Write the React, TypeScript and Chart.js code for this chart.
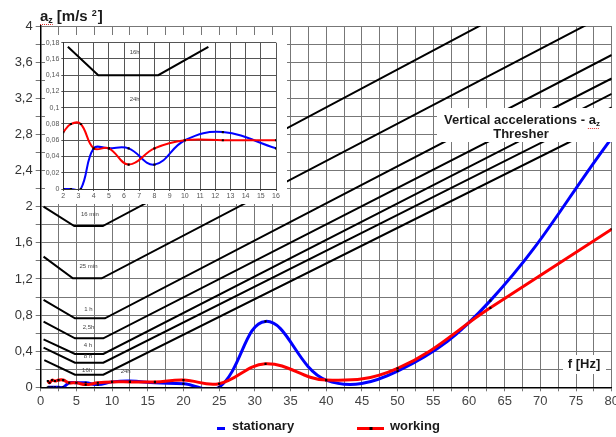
import React, { useEffect, useRef } from 'react';
import { Chart, registerables } from 'chart.js';

Chart.register(...registerables);
Chart.defaults.font.family = "'Liberation Sans', Arial, sans-serif";

// ---------- main chart data ----------
const FREQUENCIES = [1, 1.25, 1.6, 2, 2.5, 3.15, 4, 5, 6.3, 8, 10, 12.5, 16, 20, 25, 31.5, 40, 50, 63, 80];
const STATIONARY = [0, 0, 0, 0, 0, 0, 0.05, 0.05, 0.05, 0.03, 0.06, 0.07, 0.05, 0.04, 0, 0.73, 0.08, 0.18, 0.96, 2.76];
const WORKING = [0.07, 0.05, 0.08, 0.07, 0.08, 0.08, 0.05, 0.05, 0.03, 0.05, 0.06, 0.06, 0.06, 0.08, 0.04, 0.26, 0.08, 0.21, 0.88, 1.75];

const LIMIT_LABELS = ['16 min', '25 min', '1 h', '2,5h', '4 h', '8 h', '16h'];
const LIMIT_FREQS = [
  [0.4, 4.7, 8.7, 80],
  [0.4, 4.5, 8.55, 80],
  [0.4, 4.8, 9.0, 80],
  [0.4, 4.8, 8.77, 80],
  [0.4, 4.8, 8.77, 80],
  [0.4, 4.8, 8.77, 80],
  [0.5, 4.8, 8.77, 80],
];
const LIMIT_VALUES = [
  [2.0, 1.786, 1.786, 4.78],
  [1.447, 1.207, 1.207, 4.16],
  [0.967, 0.764, 0.764, 3.68],
  [0.727, 0.543, 0.543, 3.42],
  [0.53, 0.369, 0.369, 3.25],
  [0.439, 0.273, 0.273, 3.1],
  [0.3, 0.14, 0.14, 2.95],
];
const LIMIT_LABEL_F = [6.9, 6.7, 6.7, 6.7, 6.6, 6.6, 6.5, 11.9];
const LIMIT_LABEL_A = [1.91, 1.336, 0.86, 0.66, 0.47, 0.347, 0.19, 0.173];
const LIMIT_LABEL_TEXT = ['16 min', '25 min', '1 h', '2,5h', '4 h', '8 h', '16h', '24h'];

// ---------- inset data ----------
const INSET_FREQS = [2, 2.5, 3.15, 4, 5, 6.3, 8, 10, 12.5, 16];
const INSET_STATIONARY = [0, 0, 0, 0.05, 0.05, 0.05, 0.03, 0.06, 0.07, 0.05];
const INSET_WORKING = [0.07, 0.08, 0.08, 0.05, 0.05, 0.03, 0.05, 0.06, 0.06, 0.06];
const INSET_LIMIT_FREQS = [2.3, 4.3, 8.25, 11.55];
const INSET_LIMIT_VALUES = [0.175, 0.14, 0.14, 0.175];
const INSET_LABEL_F = [6.7, 6.7];
const INSET_LABEL_A = [0.168, 0.11];
const INSET_LABEL_TEXT = ['16h', '24h'];

const FONT = "'Liberation Sans', Arial, sans-serif";

const pts = (xs: number[], ys: number[]) => xs.map((x, i) => ({ x, y: ys[i] }));

export default function App() {
  const mainRef = useRef<HTMLCanvasElement>(null);
  const insetRef = useRef<HTMLCanvasElement>(null);

  useEffect(() => {
    document.body.style.margin = '0';

    const limitSets = LIMIT_LABELS.map((name, i) => ({
      label: name,
      data: pts(LIMIT_FREQS[i], LIMIT_VALUES[i]),
      borderColor: '#000',
      borderWidth: 2,
      pointRadius: 0,
      tension: 0,
    }));

    const overlay = {
      id: 'overlay',
      afterDraw(chart: any) {
        const ctx = chart.ctx;
        const xs = chart.scales.x;
        const ys = chart.scales.y;
        ctx.save();
        // limit labels
        ctx.font = `6px ${FONT}`;
        ctx.fillStyle = '#444';
        ctx.textAlign = 'center';
        ctx.textBaseline = 'middle';
        LIMIT_LABEL_TEXT.forEach((t, i) => {
          ctx.fillText(t, xs.getPixelForValue(LIMIT_LABEL_F[i]), ys.getPixelForValue(LIMIT_LABEL_A[i]));
        });

        // title box
        ctx.fillStyle = '#fff';
        ctx.fillRect(437, 108, 176, 34);
        ctx.fillStyle = '#1a1a1a';
        ctx.font = `bold 13px ${FONT}`;
        ctx.textBaseline = 'middle';
        ctx.textAlign = 'left';
        const l1 = 'Vertical accelerations - a';
        const w1 = ctx.measureText(l1).width;
        ctx.font = `bold 8px ${FONT}`;
        const wz = ctx.measureText('z').width;
        const sx = 522 - (w1 + wz) / 2;
        ctx.font = `bold 13px ${FONT}`;
        ctx.fillText(l1, sx, 120);
        ctx.font = `bold 8px ${FONT}`;
        ctx.fillText('z', sx + w1, 124);
        ctx.strokeStyle = '#e03030';
        ctx.lineWidth = 1;
        ctx.setLineDash([1, 1]);
        ctx.beginPath();
        ctx.moveTo(sx + w1 - 8, 128.5);
        ctx.lineTo(sx + w1 + wz, 128.5);
        ctx.stroke();
        ctx.setLineDash([]);
        ctx.font = `bold 13px ${FONT}`;
        ctx.textAlign = 'center';
        ctx.fillText('Thresher', 521, 134);

        // f [Hz] box
        ctx.fillStyle = '#fff';
        ctx.fillRect(563, 355, 43, 19);
        ctx.fillStyle = '#1a1a1a';
        ctx.fillText('f [Hz]', 584, 364);

        // y axis title
        ctx.textAlign = 'left';
        ctx.textBaseline = 'alphabetic';
        let x = 40;
        ctx.font = `bold 15px ${FONT}`;
        ctx.fillText('a', x, 21);
        x += ctx.measureText('a').width;
        ctx.font = `bold 9px ${FONT}`;
        ctx.fillText('z', x, 23);
        const zx = x + ctx.measureText('z').width;
        ctx.strokeStyle = '#e03030';
        ctx.setLineDash([1, 1]);
        ctx.beginPath();
        ctx.moveTo(40, 24.5);
        ctx.lineTo(zx, 24.5);
        ctx.stroke();
        ctx.setLineDash([]);
        x = zx + 4;
        ctx.font = `bold 15px ${FONT}`;
        ctx.fillText('[m/s ', x, 21);
        x += ctx.measureText('[m/s ').width;
        ctx.font = `bold 9px ${FONT}`;
        ctx.fillText('2', x, 16);
        x += ctx.measureText('2').width + 1;
        ctx.font = `bold 15px ${FONT}`;
        ctx.fillText(']', x, 21);

        // legend
        ctx.lineWidth = 3;
        ctx.strokeStyle = '#0000ff';
        ctx.beginPath();
        ctx.moveTo(217, 428.5);
        ctx.lineTo(225, 428.5);
        ctx.stroke();
        ctx.strokeStyle = '#ff0000';
        ctx.beginPath();
        ctx.moveTo(357, 428.5);
        ctx.lineTo(384, 428.5);
        ctx.stroke();
        ctx.fillStyle = '#000';
        ctx.fillRect(369.5, 427, 3, 3);
        ctx.fillStyle = '#1a1a1a';
        ctx.font = `bold 13px ${FONT}`;
        ctx.textBaseline = 'middle';
        ctx.fillText('stationary', 232, 426);
        ctx.fillText('working', 390, 426);
        ctx.restore();
      },
    };

    const main = new Chart(mainRef.current!, {
      type: 'line',
      data: {
        datasets: [
          {
            label: 'working',
            data: pts(FREQUENCIES, WORKING),
            borderColor: '#ff0000',
            borderWidth: 3,
            tension: 0.4,
            pointStyle: 'rect',
            pointRadius: 1.5,
            pointBackgroundColor: '#000',
            pointBorderWidth: 0,
          },
          {
            label: 'stationary',
            data: pts(FREQUENCIES, STATIONARY),
            borderColor: '#0000ff',
            borderWidth: 3,
            tension: 0.4,
            pointStyle: 'rect',
            pointRadius: 1.5,
            pointBackgroundColor: '#000',
            pointBorderWidth: 0,
          },
          ...limitSets,
        ] as any,
      },
      options: {
        animation: false,
        responsive: true,
        maintainAspectRatio: false,
        events: [],
        layout: { padding: { left: 0, right: 4.3, top: 26.1, bottom: 29.7 } },
        elements: { line: { capBezierPoints: false } },
        plugins: { legend: { display: false }, tooltip: { enabled: false } },
        scales: {
          x: {
            type: 'linear',
            min: 0,
            max: 80,
            ticks: {
              stepSize: 2.5,
              autoSkip: false,
              maxRotation: 0,
              color: '#444',
              font: { size: 13 },
              padding: 2,
              callback: (v: any) => (Number(v) % 5 === 0 ? String(v) : ''),
            },
            grid: { color: '#777', lineWidth: 1, tickLength: 4 },
            border: { color: '#000', width: 1.5 },
            afterFit: (s: any) => {
              s.height = 20;
              s.paddingLeft = 0;
              s.paddingRight = 0;
            },
          },
          y: {
            type: 'linear',
            min: 0,
            max: 4,
            ticks: {
              stepSize: 0.2,
              autoSkip: false,
              color: '#333',
              font: { size: 13 },
              padding: 3,
              callback: (v: any) => {
                const k = Math.round(Number(v) * 10);
                if (k % 4 !== 0) return '';
                return String(k / 10).replace('.', ',');
              },
            },
            grid: { color: '#777', lineWidth: 1, tickLength: 5 },
            border: { color: '#000', width: 1.5 },
            afterFit: (s: any) => {
              s.width = 40.7;
              s.paddingTop = 0;
              s.paddingBottom = 0;
            },
          },
        },
      } as any,
      plugins: [overlay],
    });

    const insetOverlay = {
      id: 'insetOverlay',
      afterDatasetsDraw(chart: any) {
        const ctx = chart.ctx;
        ctx.save();
        ctx.font = `6px ${FONT}`;
        ctx.fillStyle = '#444';
        ctx.textAlign = 'center';
        ctx.textBaseline = 'middle';
        INSET_LABEL_TEXT.forEach((t, i) => {
          ctx.fillText(t, chart.scales.x.getPixelForValue(INSET_LABEL_F[i]), chart.scales.y.getPixelForValue(INSET_LABEL_A[i]));
        });
        ctx.restore();
      },
    };

    const inset = new Chart(insetRef.current!, {
      type: 'line',
      data: {
        datasets: [
          {
            label: 'working',
            data: pts(INSET_FREQS, INSET_WORKING),
            borderColor: '#ff0000',
            borderWidth: 2,
            tension: 0.4,
            pointStyle: 'rect',
            pointRadius: 1.5,
            pointBackgroundColor: '#000',
            pointBorderWidth: 0,
          },
          {
            label: 'stationary',
            data: pts(INSET_FREQS, INSET_STATIONARY),
            borderColor: '#0000ff',
            borderWidth: 2,
            tension: 0.4,
            pointStyle: 'rect',
            pointRadius: 1.5,
            pointBackgroundColor: '#000',
            pointBorderWidth: 0,
          },
          {
            label: '16h',
            data: pts(INSET_LIMIT_FREQS, INSET_LIMIT_VALUES),
            borderColor: '#000',
            borderWidth: 2,
            pointRadius: 0,
            tension: 0,
          },
        ] as any,
      },
      options: {
        animation: false,
        responsive: true,
        maintainAspectRatio: false,
        events: [],
        layout: { padding: { left: 0, right: 11, top: 7.7, bottom: 0 } },
        elements: { line: { capBezierPoints: false } },
        plugins: { legend: { display: false }, tooltip: { enabled: false } },
        scales: {
          x: {
            type: 'linear',
            min: 2,
            max: 16,
            ticks: {
              stepSize: 1,
              autoSkip: false,
              maxRotation: 0,
              color: '#555',
              font: { size: 7 },
              padding: 1,
            },
            grid: { color: '#555', lineWidth: 1, tickLength: 2 },
            border: { color: '#333', width: 1 },
            afterFit: (s: any) => {
              s.height = 15;
              s.paddingLeft = 0;
              s.paddingRight = 0;
            },
          },
          y: {
            type: 'linear',
            min: 0,
            max: 0.18,
            ticks: {
              stepSize: 0.02,
              autoSkip: false,
              color: '#555',
              font: { size: 7 },
              padding: 2,
              callback: (v: any) => String(Math.round(Number(v) * 100) / 100).replace('.', ','),
            },
            grid: { color: '#555', lineWidth: 1, tickLength: 2 },
            border: { color: '#333', width: 1 },
            afterFit: (s: any) => {
              s.width = 18.3;
              s.paddingTop = 0;
              s.paddingBottom = 0;
            },
          },
        },
      } as any,
      plugins: [insetOverlay],
    });

    return () => {
      main.destroy();
      inset.destroy();
    };
  }, []);

  return (
    <div style={{ position: 'relative', width: 616, height: 437, background: '#fff' }}>
      <div style={{ position: 'absolute', left: 0, top: 0, width: 616, height: 437 }}>
        <canvas ref={mainRef} />
      </div>
      <div style={{ position: 'absolute', left: 45, top: 35, width: 242, height: 169, background: '#fff' }}>
        <canvas ref={insetRef} />
      </div>
    </div>
  );
}
